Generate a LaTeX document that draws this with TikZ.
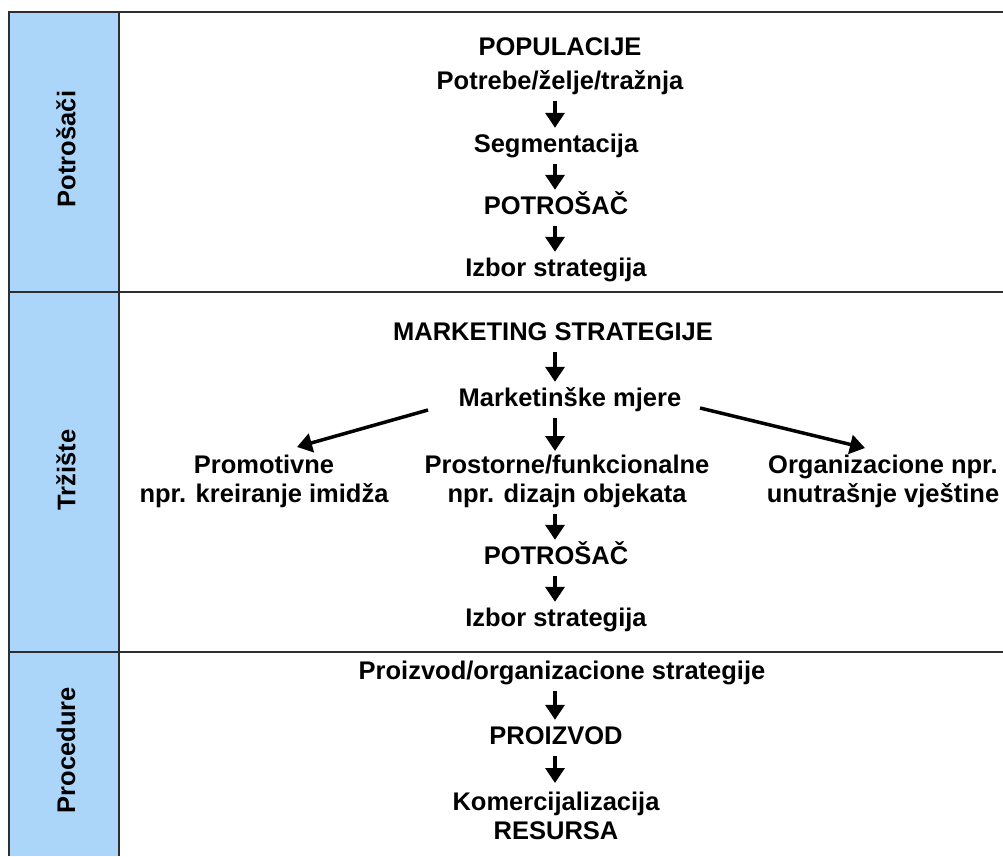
\documentclass[tikz,border=0pt]{standalone}
\usepackage{fontspec}
\setmainfont{Liberation Sans}
\usetikzlibrary{arrows.meta,calc}
\definecolor{sideblue}{RGB}{171,214,250}
\definecolor{frame}{RGB}{45,45,50}
\tikzset{
  base/.style={font=\fontsize{25.5}{29}\selectfont\bfseries, align=center, inner sep=3pt},
  lbl/.style={base, text height=18.5pt, text depth=5.5pt},
  lbltwo/.style={base, anchor=north},
  side/.style={font=\fontsize{25.5}{29}\selectfont\bfseries, rotate=90},
  arr/.style={line width=3.5pt, -{Triangle[width=19pt,length=15pt]}, shorten <=3pt, shorten >=3pt},
  rule/.style={line width=2pt, draw=frame}
}
\begin{document}
\begin{tikzpicture}[x=1pt,y=-1pt]
\useasboundingbox (0,0) rectangle (1003,856);
\fill[white] (0,0) rectangle (1003,856);
% side column
\fill[sideblue] (9,12) rectangle (119,856);
\draw[rule] (9,856) -- (9,12) -- (1003,12);
\draw[rule] (119,12) -- (119,856);
\draw[rule] (9,292) -- (1003,292);
\draw[rule] (9,652) -- (1003,652);
\node[side] (s1) at (66,149) {Potrošači};
\node[side] (s2) at (66,470) {Tržište};
\node[side] (s3) at (66,750) {Procedure};
\coordinate (ax) at (555,0);
% section 1
\node[lbl] (pop) at (560,49) {POPULACIJE};
\node[lbl] (pot) at (560,83) {Potrebe/želje/tražnja};
\node[lbl] (seg) at (556,146) {Segmentacija};
\node[lbl] (ptr1) at (556,208) {POTROŠAČ};
\node[lbl] (izb1) at (556,270) {Izbor strategija};
\draw[arr] (pot.south -| ax) -- (seg.north -| ax);
\draw[arr] (seg.south -| ax) -- (ptr1.north -| ax);
\draw[arr] (ptr1.south -| ax) -- (izb1.north -| ax);
% section 2
\node[lbl] (mks) at (553,334) {MARKETING STRATEGIJE};
\node[lbl] (mkm) at (570,400) {Marketinške mjere};
\node[lbltwo] (pro) at (264,452) {Promotivne\\npr. kreiranje imidža};
\node[lbltwo] (prf) at (567,452) {Prostorne/funkcionalne\\npr. dizajn objekata};
\node[lbltwo] (org) at (883,452) {Organizacione npr.\\unutrašnje vještine};
\node[lbl] (ptr2) at (556,558) {POTROŠAČ};
\node[lbl] (izb2) at (556,620) {Izbor strategija};
\coordinate (l0) at (428,410);
\coordinate (l1) at (297,447);
\coordinate (r0) at (700,408);
\coordinate (r1) at (865,448);
\draw[arr] (mks.south -| ax) -- (mkm.north -| ax);
\draw[arr,shorten <=0pt,shorten >=0pt] (l0) -- (l1);
\draw[arr,shorten <=0pt,shorten >=0pt] (r0) -- (r1);
\draw[arr,shorten >=1pt] (mkm.south -| ax) -- (prf.north -| ax);
\draw[arr] (prf.south -| ax) -- (ptr2.north -| ax);
\draw[arr] (ptr2.south -| ax) -- (izb2.north -| ax);
% section 3
\node[lbl] (poc) at (562,673) {Proizvod/organizacione strategije};
\node[lbl] (prz) at (556,738) {PROIZVOD};
\node[lbltwo] (kom) at (556,789) {Komercijalizacija\\RESURSA};
\draw[arr] (poc.south -| ax) -- (prz.north -| ax);
\draw[arr,shorten >=6pt] (prz.south -| ax) -- (kom.north -| ax);
\end{tikzpicture}
\end{document}
